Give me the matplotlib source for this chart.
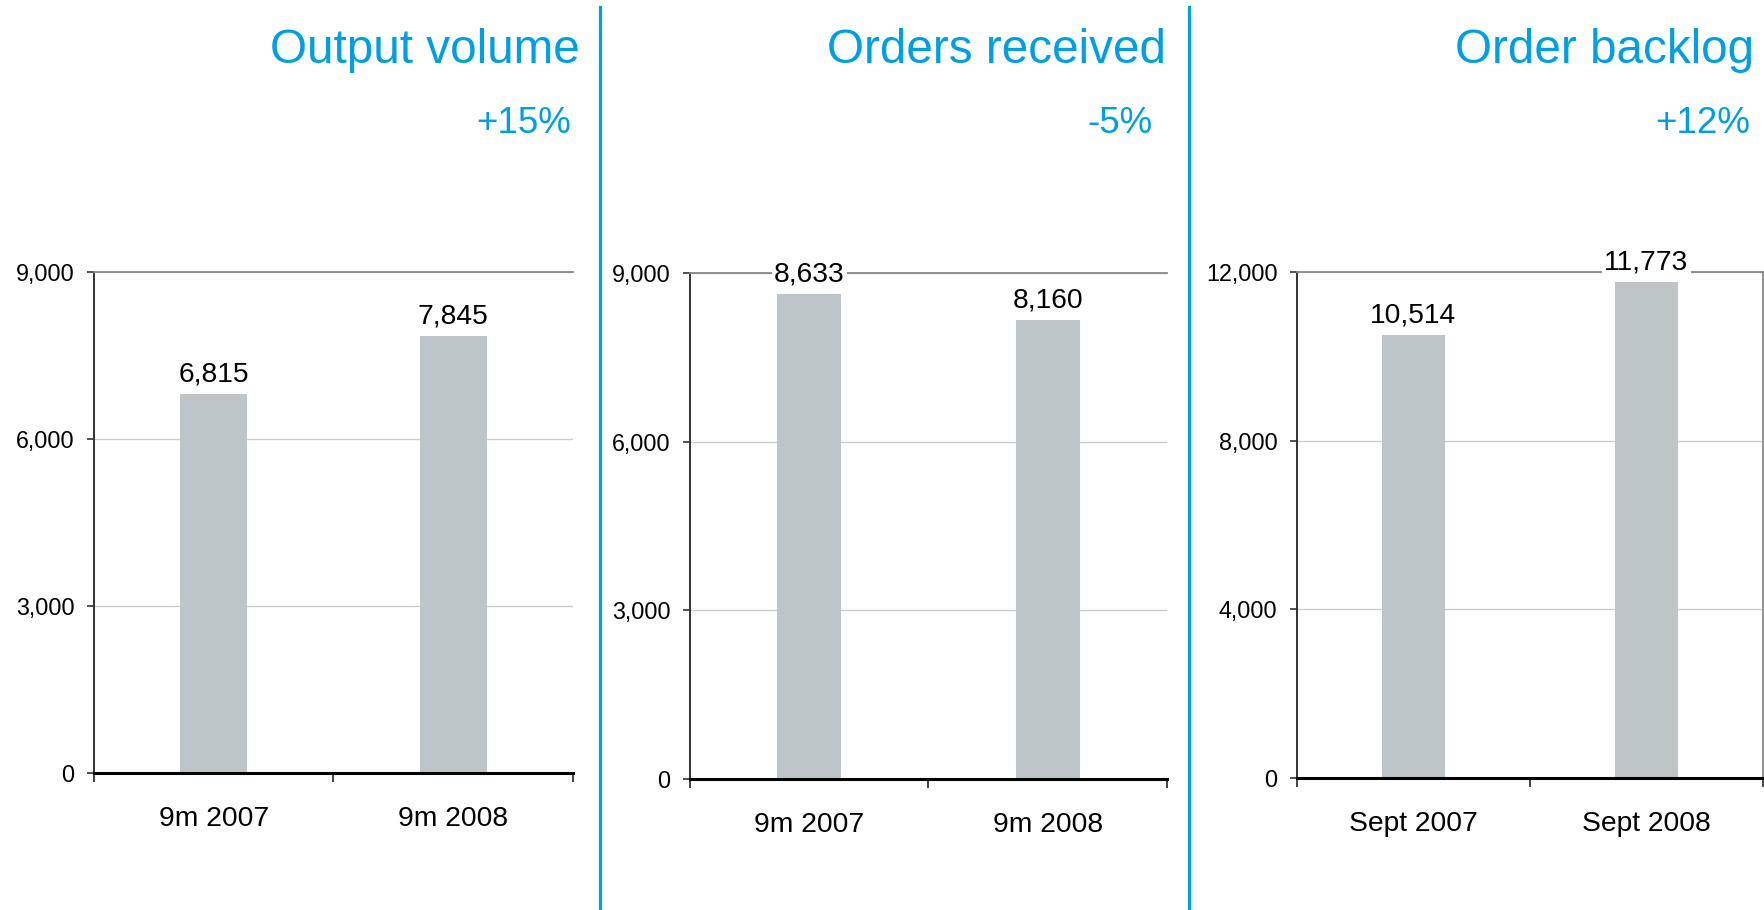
import matplotlib
matplotlib.use("Agg")
import matplotlib.pyplot as plt
from matplotlib.ticker import FuncFormatter

plt.rcParams['font.family'] = ['Liberation Sans', 'DejaVu Sans']

titles = ["Output volume", "Orders received", "Order backlog"]
changes = ["+15%", "-5%", "+12%"]
cats_9m = ["9m 2007", "9m 2008"]
cats_sept = ["Sept 2007", "Sept 2008"]
output_volume = [6815, 7845]
orders_received = [8633, 8160]
order_backlog = [10514, 11773]
ymax = [9000, 9000, 12000]
ystep = [3000, 3000, 4000]

BLUE = "#009fe3"
BAR = "#bec5c8"

W, H = 1765, 910
fig = plt.figure(figsize=(W / 100, H / 100), dpi=100)

# axes rectangles in pixels: left, right, top, bottom
rects_px = [(94, 573, 272, 773), (690, 1167, 273, 779), (1297, 1763, 272, 778)]
bar_widths = [0.28, 0.27, 0.27]
series = [output_volume, orders_received, order_backlog]
cats = [cats_9m, cats_9m, cats_sept]
title_right = [580, 1166, 1754]
change_right = [571, 1153, 1750]
show_right = [False, False, True]

for i in range(3):
    l, r, t, b = rects_px[i]
    ax = fig.add_axes([l / W, 1 - b / H, (r - l) / W, (b - t) / H])
    x = list(range(len(cats[i])))
    ax.bar(x, series[i], width=bar_widths[i], color=BAR, zorder=2)
    ax.set_xlim(-0.5, 1.5)
    ax.set_ylim(0, ymax[i])
    ax.set_yticks(list(range(0, ymax[i] + 1, ystep[i])))
    ax.yaxis.set_major_formatter(FuncFormatter(lambda v, p: f"{int(v):,}"))
    ax.grid(axis='y', color='#cccccc', linewidth=1.0, zorder=0)
    ax.set_axisbelow(True)
    ax.set_xticks(x)
    ax.set_xticklabels(cats[i])
    ax.set_xticks([-0.5, 0.5, 1.5], minor=True)
    ax.tick_params(axis='x', which='major', length=0, pad=24, labelsize=20.3)
    ax.tick_params(axis='x', which='minor', length=6.5, width=1.2, color='#222222')
    ax.tick_params(axis='y', length=5, width=1.2, color='#333333', pad=9, labelsize=16.8)
    ax.spines['top'].set_color('#888888')
    ax.spines['top'].set_linewidth(1.3)
    ax.spines['right'].set_color('#888888')
    ax.spines['right'].set_linewidth(1.3)
    ax.spines['right'].set_visible(show_right[i])
    ax.spines['left'].set_color('#333333')
    ax.spines['left'].set_linewidth(1.4)
    ax.spines['bottom'].set_color('#000000')
    ax.spines['bottom'].set_linewidth(2.2)
    for xi, v in zip(x, series[i]):
        ax.annotate(f"{v:,}", (xi, v), xytext=(0, 9), textcoords='offset points',
                    ha='center', va='baseline', fontsize=20.3, zorder=5, clip_on=False,
                    bbox=dict(facecolor='white', edgecolor='none', pad=1.5))
    fig.text(title_right[i] / W, 1 - 63 / H, titles[i], ha='right', va='baseline',
             fontsize=34.3, color=BLUE)
    fig.text(change_right[i] / W, 1 - 133 / H, changes[i], ha='right', va='baseline',
             fontsize=26.5, color=BLUE)

for xd in [600.5, 1189]:
    fig.add_artist(plt.Line2D([xd / W, xd / W], [0, 1 - 7 / H], color=BLUE,
                              linewidth=2.3, transform=fig.transFigure))

fig.savefig("out.png", dpi=100, facecolor='white')
